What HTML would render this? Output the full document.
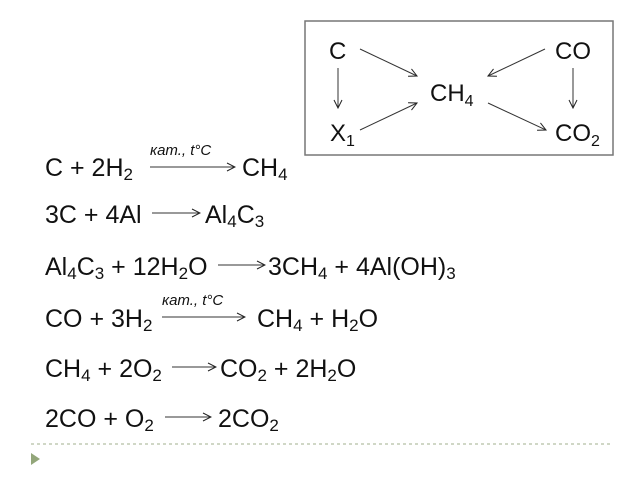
<!DOCTYPE html>
<html><head><meta charset="utf-8"><style>
html,body{margin:0;padding:0;background:#fff;}
svg{display:block;}
text{font-family:"Liberation Sans",sans-serif;fill:#111;}
</style></head><body>
<svg width="640" height="480" viewBox="0 0 640 480" xmlns="http://www.w3.org/2000/svg">
<defs>
<marker id="a" markerWidth="10" markerHeight="10" refX="9" refY="5" orient="auto" markerUnits="userSpaceOnUse">
<path d="M1,1 L9,5 L1,9" fill="none" stroke="#222" stroke-width="1"/>
</marker>
</defs>
<rect x="305" y="21" width="308" height="134" fill="none" stroke="#777" stroke-width="1.5"/>
<g font-size="24">
<text x="329" y="59">C</text>
<text x="555" y="59">CO</text>
<text x="430" y="101">CH<tspan font-size="16" dy="5">4</tspan></text>
<text x="330" y="141">X<tspan font-size="16" dy="5">1</tspan></text>
<text x="555" y="141">CO<tspan font-size="16" dy="5">2</tspan></text>
</g>
<g stroke="#333" stroke-width="1" marker-end="url(#a)">
<line x1="360" y1="49" x2="417" y2="76"/>
<line x1="545" y1="49" x2="488" y2="76"/>
<line x1="338" y1="68" x2="338" y2="108"/>
<line x1="573" y1="68" x2="573" y2="108"/>
<line x1="360" y1="130" x2="417" y2="103"/>
<line x1="488" y1="103" x2="546" y2="130"/>
<line x1="150" y1="167" x2="235" y2="167"/>
<line x1="152" y1="213" x2="200" y2="213"/>
<line x1="218" y1="265" x2="265" y2="265"/>
<line x1="162" y1="317" x2="245" y2="317"/>
<line x1="172" y1="367" x2="216" y2="367"/>
<line x1="165" y1="417" x2="211" y2="417"/>
</g>
<g font-size="15" font-style="italic">
<text x="150" y="155">кат., t°C</text>
<text x="162" y="305">кат., t°C</text>
</g>
<g font-size="25">
<text x="45" y="176">C + 2H<tspan font-size="17" dy="4">2</tspan></text>
<text x="242" y="176">CH<tspan font-size="17" dy="4">4</tspan></text>
<text x="45" y="223">3C + 4Al</text>
<text x="205" y="223">Al<tspan font-size="17" dy="4">4</tspan><tspan dy="-4">C</tspan><tspan font-size="17" dy="4">3</tspan></text>
<text x="45" y="275">Al<tspan font-size="17" dy="4">4</tspan><tspan dy="-4">C</tspan><tspan font-size="17" dy="4">3</tspan><tspan dy="-4"> + 12H</tspan><tspan font-size="17" dy="4">2</tspan><tspan dy="-4">O</tspan></text>
<text x="268" y="275">3CH<tspan font-size="17" dy="4">4</tspan><tspan dy="-4"> + 4Al(OH)</tspan><tspan font-size="17" dy="4">3</tspan></text>
<text x="45" y="327">CO + 3H<tspan font-size="17" dy="4">2</tspan></text>
<text x="257" y="327">CH<tspan font-size="17" dy="4">4</tspan><tspan dy="-4"> + H</tspan><tspan font-size="17" dy="4">2</tspan><tspan dy="-4">O</tspan></text>
<text x="45" y="377">CH<tspan font-size="17" dy="4">4</tspan><tspan dy="-4"> + 2O</tspan><tspan font-size="17" dy="4">2</tspan></text>
<text x="220" y="377">CO<tspan font-size="17" dy="4">2</tspan><tspan dy="-4"> + 2H</tspan><tspan font-size="17" dy="4">2</tspan><tspan dy="-4">O</tspan></text>
<text x="45" y="427">2CO + O<tspan font-size="17" dy="4">2</tspan></text>
<text x="218" y="427">2CO<tspan font-size="17" dy="4">2</tspan></text>
</g>
<line x1="31" y1="444" x2="610" y2="444" stroke="#b5bfa3" stroke-width="1.2" stroke-dasharray="3,3"/>
<path d="M31,453 L40,459 L31,465 Z" fill="#93a67a"/>
</svg>
</body></html>
